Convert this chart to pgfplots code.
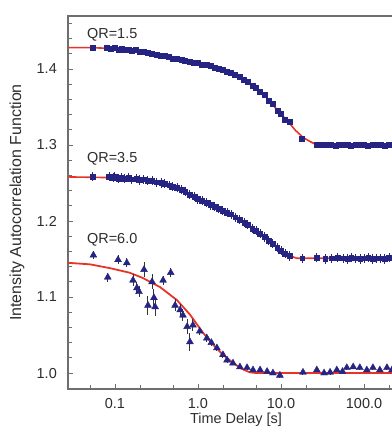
\documentclass[border=0pt]{standalone}
\usepackage{fontspec}
\setmainfont{Liberation Sans}
\usepackage{pgfplots}
\usepackage{pgfplotstable}
\pgfplotsset{compat=1.18}
\definecolor{fitred}{RGB}{232,52,40}
\definecolor{datblue}{RGB}{38,36,130}
\definecolor{axgray}{RGB}{110,110,110}
\definecolor{txtgray}{RGB}{45,45,45}

\pgfplotstableread{
t g e
0.054 1.428 0.002
0.080 1.428 0.002
0.090 1.427 0.002
0.100 1.428 0.002
0.110 1.426 0.002
0.120 1.427 0.002
0.130 1.425 0.002
0.145 1.426 0.002
0.160 1.424 0.002
0.180 1.425 0.002
0.200 1.423 0.002
0.220 1.423 0.002
0.250 1.421 0.002
0.280 1.420 0.002
0.320 1.419 0.002
0.360 1.418 0.002
0.400 1.417 0.002
0.450 1.416 0.002
0.500 1.414 0.002
0.560 1.414 0.002
0.630 1.412 0.002
0.700 1.411 0.002
0.800 1.410 0.002
0.900 1.408 0.002
1.00 1.408 0.002
1.12 1.406 0.002
1.26 1.405 0.002
1.41 1.404 0.002
1.58 1.402 0.002
1.78 1.401 0.002
2.00 1.399 0.002
2.24 1.397 0.002
2.50 1.395 0.002
2.80 1.392 0.002
3.20 1.390 0.002
3.60 1.386 0.002
4.00 1.383 0.002
4.50 1.378 0.002
5.00 1.376 0.002
5.60 1.370 0.002
6.30 1.366 0.002
7.10 1.358 0.002
8.00 1.354 0.002
9.00 1.345 0.002
10.0 1.341 0.002
11.2 1.333 0.002
12.6 1.330 0.002
18.0 1.308 0.002
27.0 1.301 0.002
31 1.300 0.002
35 1.301 0.002
40 1.300 0.002
45 1.299 0.002
50 1.300 0.002
56 1.301 0.002
63 1.300 0.002
70 1.299 0.002
80 1.300 0.002
90 1.301 0.002
100 1.300 0.002
112 1.299 0.002
126 1.300 0.002
141 1.301 0.002
158 1.300 0.002
178 1.299 0.002
200 1.300 0.002
224 1.301 0.002
250 1.300 0.002
280 1.299 0.002
}\dataA

\pgfplotstableread{
t g
0.0272 1.428
0.05 1.428
0.1 1.427
0.2 1.424
0.35 1.419
0.5 1.415
0.7 1.411
1.0 1.408
1.4 1.404
2.0 1.399
2.8 1.393
3.6 1.386
4.5 1.379
5.6 1.371
7.0 1.360
9.0 1.346
11 1.336
12.8 1.328
15 1.319
18.4 1.310
22 1.305
26 1.301
30 1.300
303 1.300
}\fitA

\pgfplotstableread{
t g e
0.054 1.258 0.006
0.085 1.258 0.006
0.095 1.257 0.006
0.100 1.258 0.006
0.110 1.256 0.006
0.120 1.257 0.006
0.130 1.256 0.006
0.145 1.257 0.006
0.160 1.255 0.006
0.180 1.256 0.006
0.200 1.254 0.006
0.220 1.255 0.006
0.250 1.253 0.006
0.280 1.253 0.006
0.320 1.251 0.006
0.360 1.250 0.006
0.400 1.249 0.006
0.450 1.247 0.006
0.500 1.245 0.006
0.560 1.244 0.006
0.630 1.241 0.006
0.700 1.239 0.006
0.800 1.235 0.006
0.900 1.232 0.006
1.00 1.229 0.006
1.12 1.227 0.006
1.26 1.224 0.006
1.41 1.221 0.006
1.58 1.219 0.006
1.78 1.216 0.006
2.00 1.214 0.006
2.24 1.211 0.006
2.50 1.209 0.006
2.80 1.205 0.006
3.20 1.202 0.006
3.60 1.198 0.006
4.00 1.195 0.006
4.50 1.190 0.006
5.00 1.187 0.006
5.60 1.183 0.006
6.30 1.179 0.006
7.10 1.174 0.006
8.00 1.170 0.006
9.00 1.165 0.006
10.0 1.161 0.006
11.2 1.157 0.006
12.6 1.154 0.006
18 1.151 0.006
27 1.152 0.006
34 1.150 0.006
41 1.151 0.006
48 1.152 0.006
56 1.151 0.006
63 1.150 0.006
70 1.152 0.006
80 1.151 0.006
90 1.150 0.006
100 1.151 0.006
112 1.152 0.006
126 1.150 0.006
141 1.151 0.006
158 1.151 0.006
178 1.150 0.006
200 1.152 0.006
224 1.151 0.006
250 1.150 0.006
280 1.151 0.006
}\dataB

\pgfplotstableread{
t g
0.0272 1.258
0.1 1.257
0.2 1.255
0.35 1.250
0.6 1.242
0.87 1.233
1.3 1.223
1.84 1.216
2.4 1.210
3.2 1.203
4.3 1.193
5.6 1.184
7 1.175
9 1.165
11 1.158
13 1.154
15.5 1.151
20 1.151
303 1.151
}\fitB

\pgfplotstableread{
t g e
0.027 1.158 0.006
0.055 1.155 0.005
0.082 1.126 0.006
0.109 1.149 0.006
0.139 1.145 0.006
0.165 1.122 0.008
0.184 1.112 0.008
0.195 1.107 0.007
0.224 1.136 0.010
0.250 1.089 0.012
0.280 1.120 0.010
0.295 1.099 0.012
0.305 1.087 0.012
0.38 1.122 0.006
0.47 1.132 0.006
0.53 1.089 0.008
0.61 1.083 0.008
0.66 1.076 0.008
0.74 1.061 0.010
0.80 1.041 0.012
0.87 1.063 0.008
1.05 1.055 0.005
1.28 1.046 0.005
1.45 1.040 0.004
1.69 1.033 0.004
2.0 1.024 0.004
2.24 1.017 0.004
2.64 1.013 0.003
3.2 1.008 0.003
3.9 1.007 0.003
4.6 1.004 0.003
5.6 1.004 0.003
6.8 1.002 0.003
8.0 1.000 0.003
9.7 0.997 0.003
18.4 1.001 0.003
27 1.004 0.003
33 1.000 0.003
39 1.001 0.003
47 1.004 0.003
55 1.002 0.003
62 1.007 0.003
74 1.008 0.003
89 1.007 0.003
108 1.004 0.003
128 1.007 0.003
155 1.004 0.003
189 1.007 0.003
217 1.004 0.003
260 1.006 0.003
}\dataC

\pgfplotstableread{
t g
0.0272 1.145
0.05 1.143
0.087 1.138
0.15 1.132
0.217 1.125
0.35 1.113
0.558 1.096
0.8 1.077
1.15 1.053
1.5 1.038
2.0 1.024
2.6 1.014
3.3 1.006
4.2 1.001
5.0 1.000
303 1.000
}\fitC

\begin{document}
\begin{tikzpicture}
\begin{axis}[
  at={(0,0)}, anchor=south west,
  scale only axis, width=336bp, height=373bp,
  xmode=log, xmin=0.0272, xmax=303, ymin=0.979, ymax=1.4697,
  xtick={0.1,1,10,100}, xticklabels={0.1,1.0,10.0,100.0},
  minor xtick={0.05,0.2,0.5,2,5,20,50,200},
  ytick={1.0,1.1,1.2,1.3,1.4}, yticklabels={1.0,1.1,1.2,1.3,1.4},
  minor ytick={0.98,1.02,1.04,1.06,1.08,1.12,1.14,1.16,1.18,1.22,1.24,1.26,1.28,1.32,1.34,1.36,1.38,1.42,1.44,1.46},
  xtick pos=bottom, ytick pos=left, tick align=inside,
  major tick length=5bp, minor tick length=4bp,
  axis line style={axgray, line width=1.2bp},
  every tick/.style={axgray, line width=0.8bp},
  every minor tick/.style={axgray, line width=0.8bp},
  xticklabel style={font=\fontsize{14.5}{16}\selectfont, text=txtgray, inner sep=0pt, yshift=-9bp},
  yticklabel style={font=\fontsize{14.5}{16}\selectfont, text=txtgray, inner sep=0pt, xshift=-11bp},
  xlabel={Time Delay [s]},
  xlabel style={font=\fontsize{14.5}{16}\selectfont, text=txtgray, at={(axis description cs:0.5,0)}, anchor=north, inner sep=0pt, yshift=-24bp},
  ylabel={Intensity Autocorrelation Function},
  ylabel style={font=\fontsize{16}{18}\selectfont, text=txtgray, at={(axis description cs:-0.152,0.5)}, anchor=center, inner sep=0pt},
  clip=true,
]
% QR=1.5
\addplot[only marks, mark=square*, mark size=2.5bp, datblue,
  error bars/.cd, y dir=both, y explicit, error mark=none,
  error bar style={line width=0.8bp, datblue}]
  table[x=t, y=g, y error=e] {\dataA};
\addplot[fitred, line width=1.6bp, no marks] table[x=t, y=g] {\fitA};
% QR=3.5
\addplot[only marks, mark=square*, mark size=2.4bp, datblue,
  error bars/.cd, y dir=both, y explicit, error mark=none,
  error bar style={line width=1bp, datblue}]
  table[x=t, y=g, y error=e] {\dataB};
\addplot[fitred, line width=1.6bp, no marks] table[x=t, y=g] {\fitB};
% QR=6.0
\addplot[fitred, line width=1.8bp, no marks] table[x=t, y=g] {\fitC};
\addplot[only marks, mark=triangle*, mark size=4bp, datblue,
  error bars/.cd, y dir=both, y explicit, error mark=none,
  error bar style={line width=1bp, black!80}]
  table[x=t, y=g, y error=e] {\dataC};
\node[anchor=base west, inner sep=0pt, font=\fontsize{14.5}{16}\selectfont, text=txtgray] at (axis cs:0.046,1.4395) {QR=1.5};
\node[anchor=base west, inner sep=0pt, font=\fontsize{14.5}{16}\selectfont, text=txtgray] at (axis cs:0.046,1.2776) {QR=3.5};
\node[anchor=base west, inner sep=0pt, font=\fontsize{14.5}{16}\selectfont, text=txtgray] at (axis cs:0.046,1.171) {QR=6.0};
\end{axis}
\pgfresetboundingbox
\useasboundingbox (-68bp,-41bp) rectangle (324bp,389bp);
\end{tikzpicture}
\end{document}
